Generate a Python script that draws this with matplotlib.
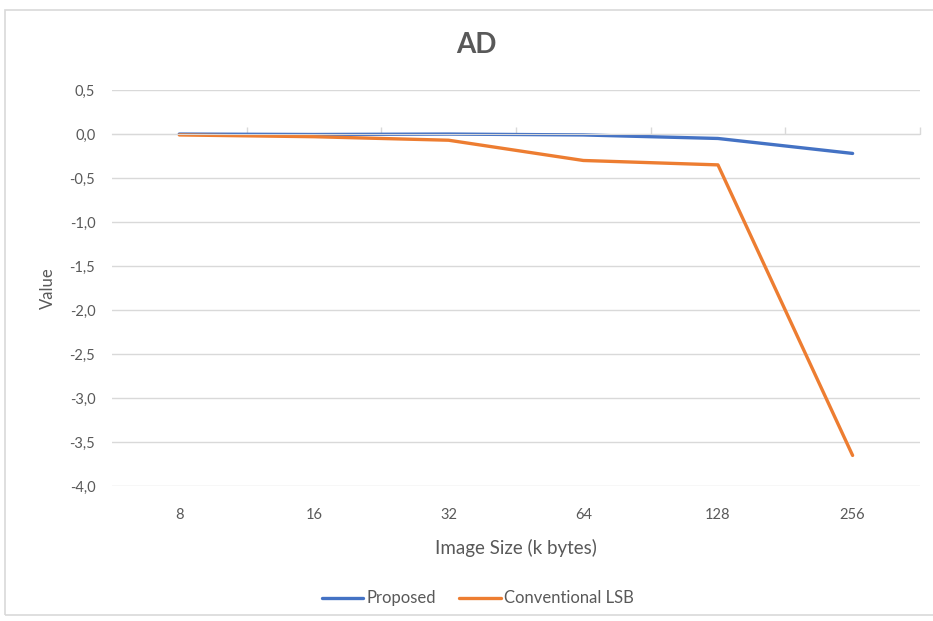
import matplotlib.pyplot as plt
from matplotlib.patches import Rectangle
from matplotlib.ticker import FuncFormatter, MultipleLocator, FixedLocator

# data
sizes = ["8", "16", "32", "64", "128", "256"]
proposed = [0.0, -0.005, 0.0, -0.01, -0.05, -0.22]
conventional = [-0.01, -0.03, -0.07, -0.30, -0.35, -3.65]

plt.rcParams['font.family'] = ['Lato', 'DejaVu Sans']
text_col = "#595959"
grid_col = "#D9D9D9"

fig = plt.figure(figsize=(9.33, 6.21), dpi=100)
ax = fig.add_axes([0.120, 0.217, 0.866, 0.638])

# light frame around the whole chart like the Excel chart area
fig.patches.append(Rectangle((5/933, 6/621), 1.0, 1 - 16/621, transform=fig.transFigure,
                             fill=False, edgecolor=grid_col, lw=1.2))

x = list(range(len(sizes)))
ax.plot(x, proposed, color="#4472C4", lw=2.4, label="Proposed", solid_capstyle='round')
ax.plot(x, conventional, color="#ED7D31", lw=2.4, label="Conventional LSB", solid_capstyle='round')

ax.set_xlim(-0.5, len(sizes) - 0.5)
ax.set_ylim(-4.0, 0.5)
ax.yaxis.set_major_locator(MultipleLocator(0.5))
ax.yaxis.set_major_formatter(FuncFormatter(lambda v, p: f"{v:.1f}".replace(".", ",")))
ax.grid(axis='y', color=grid_col, lw=1)
ax.set_axisbelow(True)
for s in ['top', 'right', 'left']:
	ax.spines[s].set_visible(False)
ax.tick_params(axis='y', length=0, labelsize=10.5, labelcolor=text_col, pad=12)

# category axis crosses at zero, ticks between categories
ax.spines['bottom'].set_position(('data', 0))
ax.spines['bottom'].set_color(grid_col)
ax.xaxis.set_major_locator(FixedLocator(x))
ax.xaxis.set_minor_locator(FixedLocator([i + 0.5 for i in x]))
ax.tick_params(axis='x', which='major', length=0, labelbottom=False)
ax.tick_params(axis='x', which='minor', length=5, direction='in', color=grid_col, width=1)

# labels at the bottom of the plot area
sec = ax.secondary_xaxis('bottom')
sec.set_xticks(x, sizes)
sec.spines['bottom'].set_visible(False)
sec.tick_params(length=0, labelsize=10.5, labelcolor=text_col, pad=16)
sec.set_xlabel("Image Size (k bytes)", fontsize=13.5, color=text_col, labelpad=12)

ax.set_ylabel("Value", fontsize=12, color=text_col, labelpad=10)
fig.text(476/933, 1 - 45/621, "AD", fontsize=20, fontweight='bold', color=text_col,
         ha='center', va='center')

ax.legend(loc='upper center', bbox_to_anchor=(0.453, -0.225), ncol=2, frameon=False,
          fontsize=12, labelcolor=text_col, handlelength=2.5, handletextpad=0.2, columnspacing=1.4)

fig.savefig("out.png", dpi=100)
